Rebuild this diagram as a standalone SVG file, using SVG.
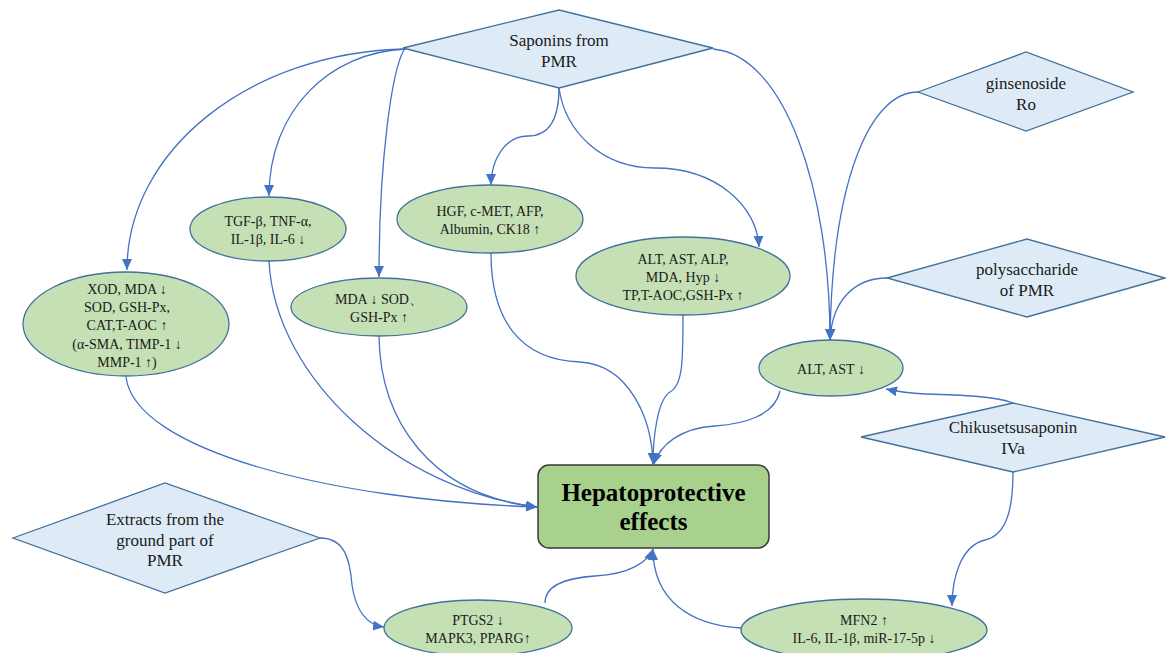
<svg xmlns="http://www.w3.org/2000/svg" width="1166" height="653" viewBox="0 0 1166 653">
<defs>
<marker id="arr" markerUnits="userSpaceOnUse" markerWidth="11" markerHeight="10" refX="11" refY="5" orient="auto">
<path d="M0,0 L11,5 L0,10 z" fill="#4472C4"/>
</marker>
<style>
.dia{fill:#DEEBF7;stroke:#41719C;stroke-width:1.3}
.ell{fill:#C5E0B4;stroke:#41719C;stroke-width:1.3}
.box{fill:#A9D18E;stroke:#3A3A3A;stroke-width:1.5}
.con{fill:none;stroke:#4472C4;stroke-width:1.3;marker-end:url(#arr)}
text{font-family:"Liberation Serif","DejaVu Serif",serif;fill:#1a1a1a;text-anchor:middle}
.t14{font-size:14px}
.t17{font-size:17px}
.tb{font-size:25px;font-weight:bold;fill:#000}
</style>
</defs>
<rect width="1166" height="653" fill="#fff"/>
<g id="connectors">
<path class="con" d="M406,49 C250,52 127,150 127,270"/>
<path class="con" d="M406,49 C330,52 269,110 269,196"/>
<path class="con" d="M404,50 C392,70 379,160 379,277"/>
<path class="con" d="M559,88 C559,120 548,136 528,136 C505,136 491,160 491,185"/>
<path class="con" d="M559,88 C565,130 600,168 655,168 C715,168 757,205 759,247"/>
<path class="con" d="M713,49 C785,55 830,190 830,340"/>
<path class="con" d="M918,92 C870,92 832,180 830,340"/>
<path class="con" d="M887,278 C855,278 832,300 830,340"/>
<path class="con" d="M1013,403 C995,396 960,395 925,394 C905,393 895,391 886,389"/>
<path class="con" d="M1013,472 C1013,505 1008,535 985,540 C960,546 952,580 952,606"/>
<path class="con" d="M126,377 C135,450 330,500 537,507"/>
<path class="con" d="M269,261 C275,380 400,490 537,507"/>
<path class="con" d="M379,336 C380,420 430,495 537,507"/>
<path class="con" d="M491,253 C491,320 520,360 580,362 C630,365 652,420 653,464"/>
<path class="con" d="M683,315 C683,360 683,385 670,392 C657,400 653,440 653,464"/>
<path class="con" d="M780,391 C775,415 745,424 715,426 C680,428 660,445 654,464"/>
<path class="con" d="M320,538 C345,538 350,560 352,585 C356,612 368,625 384,627"/>
<path class="con" d="M545,603 C545,585 565,578 595,576 C630,574 648,562 653,549"/>
<path class="con" d="M741,628 C690,625 653,600 653,549"/>
</g>
<g id="saponins">
<polygon class="dia" points="403,48 559,10 713,48 559,88"/>
<text class="t17" x="559" y="46">Saponins from</text>
<text class="t17" x="559" y="67">PMR</text>
</g>
<g id="ginsenoside">
<polygon class="dia" points="918,92 1026,52 1133,92 1026,131"/>
<text class="t17" x="1026" y="89">ginsenoside</text>
<text class="t17" x="1026" y="110">Ro</text>
</g>
<g id="polysaccharide">
<polygon class="dia" points="887,278 1027,239 1165,278 1027,317"/>
<text class="t17" x="1027" y="275">polysaccharide</text>
<text class="t17" x="1027" y="296">of PMR</text>
</g>
<g id="chikusetsusaponin">
<polygon class="dia" points="861,437 1013,403 1165,437 1013,472"/>
<text class="t17" x="1013" y="433">Chikusetsusaponin</text>
<text class="t17" x="1013" y="454">IVa</text>
</g>
<g id="extracts">
<polygon class="dia" points="13,538 165,483 320,538 165,593"/>
<text class="t17" x="165" y="525">Extracts from the</text>
<text class="t17" x="165" y="546">ground part of</text>
<text class="t17" x="165" y="566">PMR</text>
</g>
<g id="xod">
<ellipse class="ell" cx="126" cy="324" rx="103" ry="52"/>
<text class="t14" x="127" y="294">XOD, MDA ↓</text>
<text class="t14" x="127" y="312">SOD, GSH-Px,</text>
<text class="t14" x="127" y="330">CAT,T-AOC ↑</text>
<text class="t14" x="127" y="349">(α-SMA, TIMP-1 ↓</text>
<text class="t14" x="127" y="367">MMP-1 ↑)</text>
</g>
<g id="tgf">
<ellipse class="ell" cx="268" cy="229" rx="78" ry="32"/>
<text class="t14" x="268" y="226">TGF-β, TNF-α,</text>
<text class="t14" x="268" y="244">IL-1β, IL-6 ↓</text>
</g>
<g id="mda">
<ellipse class="ell" cx="379" cy="307" rx="88" ry="29"/>
<text class="t14" x="379" y="304">MDA ↓ SOD、</text>
<text class="t14" x="379" y="322">GSH-Px ↑</text>
</g>
<g id="hgf">
<ellipse class="ell" cx="490" cy="219" rx="93" ry="34"/>
<text class="t14" x="490" y="216">HGF, c-MET, AFP,</text>
<text class="t14" x="490" y="234">Albumin, CK18 ↑</text>
</g>
<g id="altalp">
<ellipse class="ell" cx="683" cy="276" rx="107" ry="39"/>
<text class="t14" x="683" y="264">ALT, AST, ALP,</text>
<text class="t14" x="683" y="282">MDA, Hyp ↓</text>
<text class="t14" x="683" y="300">TP,T-AOC,GSH-Px ↑</text>
</g>
<g id="altast">
<ellipse class="ell" cx="831" cy="368" rx="72" ry="28"/>
<text class="t14" x="831" y="374">ALT, AST ↓</text>
</g>
<g id="ptgs2">
<ellipse class="ell" cx="478" cy="628" rx="94" ry="28"/>
<text class="t14" x="478" y="625">PTGS2 ↓</text>
<text class="t14" x="478" y="643">MAPK3, PPARG↑</text>
</g>
<g id="mfn2">
<ellipse class="ell" cx="864" cy="630" rx="123" ry="31"/>
<text class="t14" x="864" y="625">MFN2 ↑</text>
<text class="t14" x="864" y="643">IL-6, IL-1β, miR-17-5p ↓</text>
</g>
<g id="hepatoprotective">
<rect class="box" x="538" y="465" width="231" height="83" rx="11" ry="11"/>
<text class="tb" x="653.5" y="501">Hepatoprotective</text>
<text class="tb" x="653.5" y="530">effects</text>
</g>
</svg>
